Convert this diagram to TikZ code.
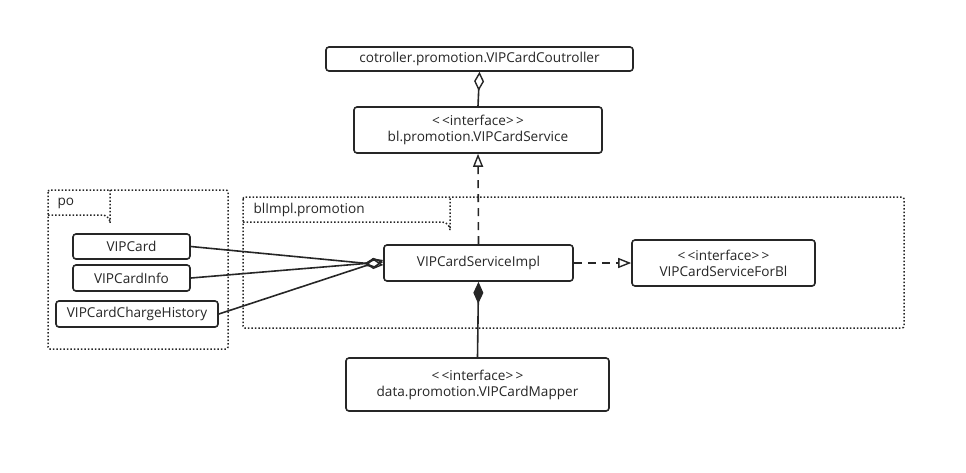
\documentclass[tikz,border=0pt]{standalone}
\usepackage{fontspec}
\setmainfont{Open Sans}
\usetikzlibrary{arrows.meta}
\begin{document}
\begin{tikzpicture}[x=1pt,y=-1pt,
  cls/.style={draw=black!85, line width=1.6pt, rounded corners=3pt, fill=white,
    inner sep=0pt, align=center, font=\fontsize{13.6}{16}\selectfont, text=black!85},
  pkg/.style={draw=black!85, line width=1.5pt, dotted},
  link/.style={draw=black!85, line width=1.6pt},
  agg/.style={link, -{Diamond[open, length=19pt, width=10pt, line width=1.4pt]}},
  comp/.style={link, -{Diamond[length=22pt, width=10pt]}},
  real/.style={link, dashed, dash pattern=on 8pt off 6pt, -{Triangle[open, length=13pt, width=10pt, line width=1.4pt]}},
  plabel/.style={font=\fontsize{13.6}{16}\selectfont, text=black!85, anchor=west}
]
\useasboundingbox (0,0) rectangle (966,472);

% package frames with their name tabs
\draw[pkg, rounded corners=2pt] (48,190) rectangle (228,349);
\draw[pkg] (48,215) -- (102,215) arc[start angle=-90, end angle=0, radius=8] -- (110,190);
\node[plabel] (popkg) at (54,203) {po};

\draw[pkg, rounded corners=2pt] (243,197) rectangle (904,328);
\draw[pkg] (243,222) -- (442,222) arc[start angle=-90, end angle=0, radius=8] -- (450,197);
\node[plabel] (implpkg) at (250,210) {blImpl.promotion};

% classes
\node[cls, minimum width=307pt, minimum height=24pt] (ctrl) at (479.5,59)
  {cotroller.promotion.VIPCardCoutroller};
\node[cls, minimum width=248pt, minimum height=46pt] (svc) at (478,130)
  {<\,<interface>\,>\\bl.promotion.VIPCardService};
\node[cls, minimum width=117pt, minimum height=25pt] (card) at (131.5,246.5) {VIPCard};
\node[cls, minimum width=117pt, minimum height=26pt] (info) at (131.5,278) {VIPCardInfo};
\node[cls, minimum width=162pt, minimum height=26pt] (hist) at (137,314) {VIPCardChargeHistory};
\node[cls, minimum width=189pt, minimum height=36pt] (impl) at (478.5,263) {VIPCardServiceImpl};
\node[cls, minimum width=183pt, minimum height=46pt] (forbl) at (723.5,263)
  {<\,<interface>\,>\\VIPCardServiceForBl};
\node[cls, minimum width=263pt, minimum height=53pt] (mapper) at (477.5,384.5)
  {<\,<interface>\,>\\data.promotion.VIPCardMapper};

% relations
\draw[agg] (svc.north) -- (ctrl.south);
\draw[real] (impl.north) -- (svc.south);
\draw[real] (impl.east) -- (forbl.west);
\draw[comp] (mapper.north) -- (impl.south);
\draw[agg] (card.east) -- ([yshift=-2pt]impl.west);
\draw[agg] (info.east) -- ([yshift=1pt]impl.west);
\draw[agg] (hist.east) -- ([yshift=3pt]impl.west);
\end{tikzpicture}
\end{document}
